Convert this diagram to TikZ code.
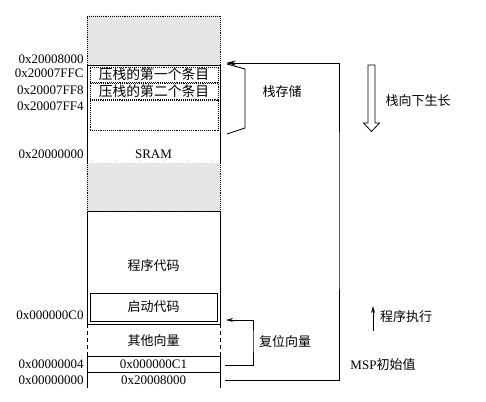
\documentclass[tikz,border=0pt]{standalone}
\usepackage{fontspec}
\setmainfont{Liberation Serif}
\newfontfamily\cjk{Noto Sans CJK SC}
\usetikzlibrary{patterns,arrows.meta}
\begin{document}
\begin{tikzpicture}[x=1pt,y=-1pt,
  font=\fontsize{13}{15}\selectfont,
  line width=0.9pt,
  lab/.style={anchor=east, inner sep=0pt},
  txt/.style={inner sep=0pt},
  box/.style={minimum width=133pt, inner sep=0pt, outer sep=0pt},
  hatch/.style={fill=gray!12, postaction={pattern=north east lines, pattern color=gray!35}},
  entrybox/.style={draw, densely dotted, minimum width=128pt, inner sep=0pt, outer sep=0pt, font=\fontsize{13.8}{15}\selectfont},
  bigtip/.style={-{Stealth[length=10pt,width=5pt]}},
  smalltip/.style={-{Stealth[length=7pt,width=4pt]}}]
\useasboundingbox (0,0) rectangle (486,401);

% top hatched region
\node[box, hatch, minimum height=49pt] (tophatch) at (153.5,40.5) {};
\draw[densely dotted] (tophatch.south west) -- (tophatch.north west) -- (tophatch.north east) -- (tophatch.south east);

% stack region
\node[box, draw, minimum height=98pt] (stack) at (153.5,114) {};
\node[entrybox, minimum height=15pt] (e1) at (154,74.5) {\cjk 压栈的第一个条目};
\node[entrybox, minimum height=16pt] (e2) at (154,91) {\cjk 压栈的第二个条目};
\node[entrybox, minimum height=30pt] (e3) at (154,115) {};
\node[txt] (sram) at (153.5,154) {SRAM};

% middle hatched region
\node[box, hatch, minimum height=48pt] (midhatch) at (153.5,187) {};
\draw[densely dotted] (midhatch.north west) -- (midhatch.south west);
\draw[densely dotted] (midhatch.north east) -- (midhatch.south east);

% program code
\node[box, draw, minimum height=113pt] (prog) at (153.5,267.5) {};
\node[txt] (progtxt) at (153.5,266) {\cjk 程序代码};
\node[draw, minimum width=127pt, minimum height=28pt, inner sep=0pt] (boot) at (153.5,307) {\cjk 启动代码};

% other vectors
\node[box, minimum height=32pt] (vec) at (153.5,340) {};
\draw[dashed, dash pattern=on 4pt off 3pt] (vec.north west) -- (vec.south west);
\draw[dashed, dash pattern=on 4pt off 3pt] (vec.north east) -- (vec.south east);
\node[txt] (vectxt) at (153.5,341) {\cjk 其他向量};

% vector table rows
\node[box, draw, minimum height=16pt] (rowa) at (153.5,364) {0x000000C1};
\node[box, minimum height=16pt] (rowb) at (153.5,380) {0x20008000};
\draw (rowb.south west) -- (rowb.north west) -- (rowb.north east) -- (rowb.south east);

% left address labels
\node[lab] (l1) at (84,59) {0x20008000};
\node[lab] (l2) at (84,73.5) {0x20007FFC};
\node[lab] (l3) at (84,90) {0x20007FF8};
\node[lab] (l4) at (84,106) {0x20007FF4};
\node[lab] (l5) at (84,154) {0x20000000};
\node[lab] (l6) at (84,315) {0x000000C0};
\node[lab] (l7) at (84,364) {0x00000004};
\node[lab] (l8) at (84,380) {0x00000000};

% bracket for stack storage
\draw (227,64) -- (245,69) -- (245,128) -- (227,134);
\node[txt] (stor) at (282,92) {\cjk 栈存储};

% MSP initial value loop
\coordinate (mspS) at (225,380);
\coordinate (mspX) at (339,200);
\coordinate (mspT) at (226,63);
\draw[bigtip] (mspS) -| (mspX) |- (mspT);
\node[txt] (msp) at (383,365) {MSP{\cjk 初始值}};

% reset vector
\coordinate (rstS) at (225,365);
\coordinate (rstX) at (253,340);
\coordinate (rstT) at (226,320);
\draw[smalltip] (rstS) -| (rstX) |- (rstT);
\node[txt] (rst) at (285,342) {\cjk 复位向量};

% stack grows down (hollow arrow)
\draw[line width=0.8pt] (368,65) -- (375,65) -- (375,123) -- (379.5,123) -- (371.5,131.5) -- (363.5,123) -- (368,123) -- cycle;
\node[txt] (grow) at (418,101) {\cjk 栈向下生长};

% program execution
\coordinate (exS) at (373,331);
\coordinate (exT) at (373,306);
\draw[smalltip, line width=1pt] (exS) -- (exT);
\node[txt] (exec) at (406,317) {\cjk 程序执行};
\end{tikzpicture}
\end{document}
